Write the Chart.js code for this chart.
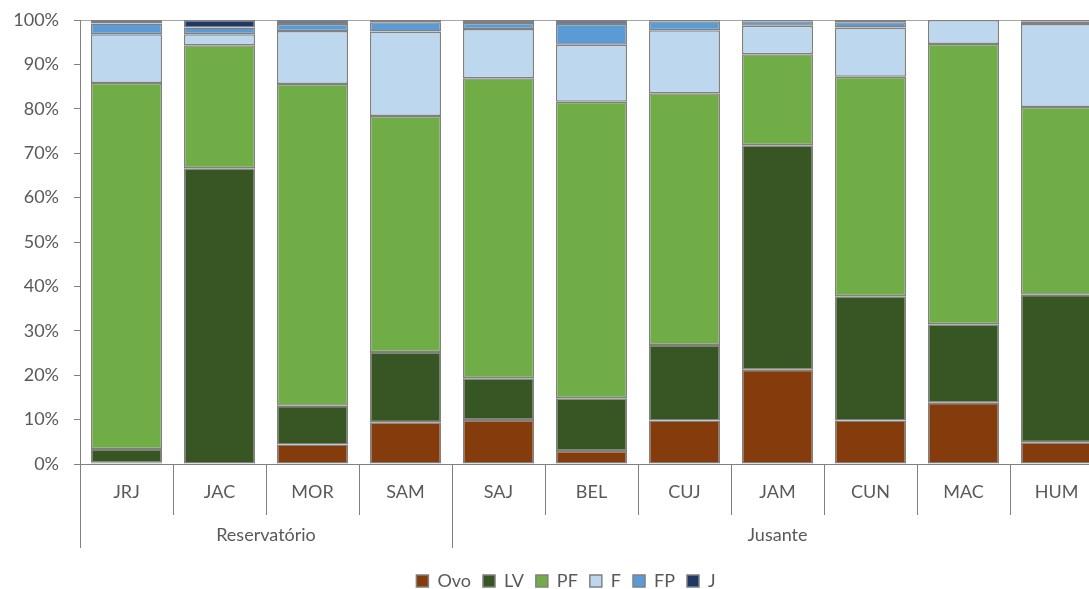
<!DOCTYPE html>
<html>
<head>
    <meta charset="utf-8">
    <title>Estágios por local</title>
    <script src="https://cdn.jsdelivr.net/npm/chart.js"></script>
    <style>
        html, body {
            margin: 0;
            padding: 0;
            overflow: hidden;
            background: #fff;
        }
        #wrap {
            position: absolute;
            left: 0;
            top: 0;
            width: 1110px;
            height: 589px;
        }
    </style>
</head>
<body>
    <div id="wrap"><canvas id="myChart"></canvas></div>

    <script>
        // sites (first 4 in the reservoir, rest downstream)
        const sites = ['JRJ', 'JAC', 'MOR', 'SAM', 'SAJ', 'BEL', 'CUJ', 'JAM', 'CUN', 'MAC', 'HUM'];
        const groups = ['Reservatório', 'Jusante'];
        const groupSizes = [4, 7];

        // percent of each stage per site
        const ovo = [0.3, 0.1, 4.4, 9.4, 9.9, 2.9, 9.8, 21.2, 9.8, 13.8, 4.9];
        const lv  = [3.1, 66.5, 8.7, 15.8, 9.4, 11.9, 17.0, 50.6, 28.0, 17.7, 33.2];
        const pf  = [82.4, 27.7, 72.5, 53.2, 67.6, 66.8, 56.7, 20.5, 49.4, 63.1, 42.3];
        const f   = [11.0, 2.5, 11.9, 19.0, 11.1, 12.8, 14.2, 6.4, 11.1, 5.4, 18.7];
        const fp  = [2.4, 1.5, 1.6, 2.1, 1.3, 4.7, 2.0, 1.0, 1.2, 0, 0.6];
        const j   = [0.8, 1.7, 0.9, 0.5, 0.7, 0.9, 0.3, 0.3, 0.5, 0, 0.3];

        const yTicks = [0, 10, 20, 30, 40, 50, 60, 70, 80, 90, 100];

        const textColor = '#595959';
        const lineColor = '#808080';
        const fontFamily = 'Lato, "Open Sans", sans-serif';

        function makeSet(label, data, color) {
            return {
                label: label,
                data: data,
                backgroundColor: color,
                borderColor: lineColor,
                borderWidth: 1.5,
                borderSkipped: false,
                barPercentage: 0.765,
                categoryPercentage: 1
            };
        }

        // group boundaries and centres on the -0.5..10.5 index scale
        const groupEdges = [-0.5];
        const groupCentres = [];
        let start = -0.5;
        groupSizes.forEach(n => {
            groupCentres.push(start + n / 2);
            start += n;
            groupEdges.push(start);
        });
        const groupTicks = groupEdges.concat(groupCentres).sort((a, b) => a - b);

        const tickVal = c => (c && c.tick) ? c.tick.value : null;

        // the original legend sits a bit right of centre and lower down
        const legendShift = {
            id: 'legendShift',
            afterLayout(chart) {
                const l = chart.legend;
                l.left += 9;
                l.right += 9;
                l.top += 12;
                l.bottom += 12;
            }
        };

        const ctx = document.getElementById('myChart').getContext('2d');
        new Chart(ctx, {
            type: 'bar',
            data: {
                labels: sites,
                datasets: [
                    makeSet('Ovo', ovo, '#843C0C'),
                    makeSet('LV', lv, '#375623'),
                    makeSet('PF', pf, '#70AD47'),
                    makeSet('F', f, '#BDD7EE'),
                    makeSet('FP', fp, '#5B9BD5'),
                    makeSet('J', j, '#203864')
                ]
            },
            plugins: [legendShift],
            options: {
                responsive: true,
                maintainAspectRatio: false,
                animation: false,
                layout: {
                    padding: { left: 11, right: 7, top: 20, bottom: 1 }
                },
                plugins: {
                    tooltip: { enabled: false },
                    legend: {
                        position: 'bottom',
                        labels: {
                            boxWidth: 12,
                            boxHeight: 12,
                            padding: 12,
                            color: textColor,
                            font: { family: fontFamily, size: 18 }
                        }
                    }
                },
                scales: {
                    x: {
                        stacked: true,
                        grid: {
                            offset: true,
                            drawOnChartArea: false,
                            color: lineColor,
                            tickLength: 51
                        },
                        border: { color: lineColor, width: 1 },
                        ticks: {
                            color: textColor,
                            padding: -34,
                            font: { family: fontFamily, size: 18 }
                        },
                        afterFit: s => { s.height = 51; }
                    },
                    x2: {
                        type: 'linear',
                        axis: 'x',
                        position: 'bottom',
                        offset: false,
                        min: -0.5,
                        max: sites.length - 0.5,
                        grid: {
                            offset: false,
                            drawOnChartArea: false,
                            color: c => groupEdges.includes(tickVal(c)) ? lineColor : 'rgba(0,0,0,0)',
                            tickLength: 33
                        },
                        border: { display: false },
                        afterBuildTicks: s => {
                            s.ticks = groupTicks.map(v => ({ value: v }));
                        },
                        ticks: {
                            autoSkip: false,
                            maxRotation: 0,
                            color: textColor,
                            padding: -24,
                            font: { family: fontFamily, size: 18 },
                            callback: v => {
                                const i = groupCentres.indexOf(v);
                                return i >= 0 ? groups[i] : '';
                            }
                        },
                        afterFit: s => { s.height = 33; }
                    },
                    y: {
                        stacked: true,
                        min: 0,
                        max: 100,
                        afterBuildTicks: s => {
                            s.ticks = yTicks.map(v => ({ value: v }));
                        },
                        grid: {
                            color: c => tickVal(c) === 100 ? '#a6a6a6' : 'rgba(0,0,0,0)',
                            tickColor: lineColor,
                            tickLength: 6
                        },
                        border: { color: lineColor, width: 1 },
                        ticks: {
                            color: textColor,
                            padding: 15,
                            font: { family: fontFamily, size: 18 },
                            callback: v => v + '%'
                        },
                        afterFit: s => {
                            s.width = 69;
                            s.paddingTop = 0;
                            s.paddingBottom = 0;
                        }
                    }
                }
            }
        });
    </script>
</body>
</html>
